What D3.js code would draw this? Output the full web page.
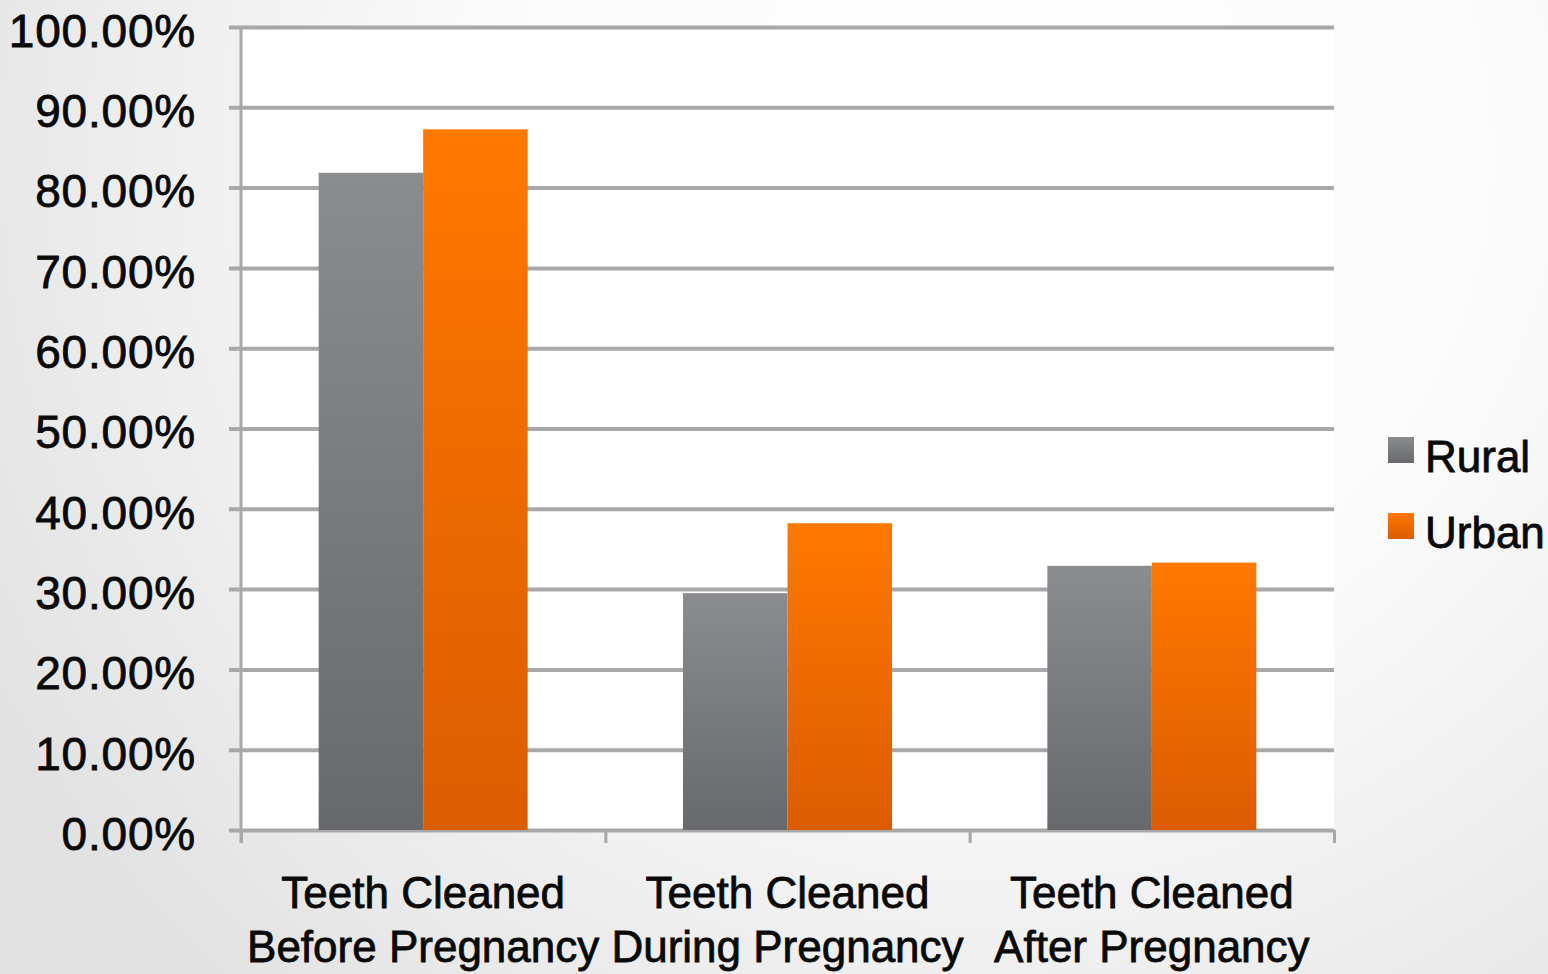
<!DOCTYPE html>
<html lang="en">
  <head>
  <meta charset="utf-8"/>
    <script type="text/javascript" src="https://cdnjs.cloudflare.com/ajax/libs/d3/7.8.5/d3.min.js"></script>
    <style>
      body { margin: 0; overflow: hidden; }
      text { font-family: "Liberation Sans", Arial, sans-serif; fill: #0a0a0a; stroke: #0a0a0a; stroke-width: 0.8px; }
    </style>
  </head>
  <body>
<svg class="chart"></svg>
    <script type="text/javascript">

// chart values
var categories = [["Teeth Cleaned", "Before Pregnancy"], ["Teeth Cleaned", "During Pregnancy"], ["Teeth Cleaned", "After Pregnancy"]];
var seriesNames = ["Rural", "Urban"];
var rural = [0.8185, 0.295, 0.329];
var urban = [0.8726, 0.382, 0.333];
var yTicks = [0, 0.1, 0.2, 0.3, 0.4, 0.5, 0.6, 0.7, 0.8, 0.9, 1.0];

var width = 1548, height = 974;
// note: "top" is taken by window.top, so use plot* names
var plotLeft = 241, plotRight = 1334, plotTop = 27, plotBottom = 830;

var svg = d3.select('.chart').attr('width', width).attr('height', height);
var defs = svg.append('defs');

// slide background
var bg = defs.append('radialGradient').attr('id', 'bg')
  .attr('gradientUnits', 'userSpaceOnUse')
  .attr('cx', 1000).attr('cy', 150).attr('r', 1150);
bg.append('stop').attr('offset', '0%').attr('stop-color', '#ffffff');
bg.append('stop').attr('offset', '45%').attr('stop-color', '#fbfbfb');
bg.append('stop').attr('offset', '100%').attr('stop-color', '#e2e2e2');
svg.append('rect').attr('width', width).attr('height', height).attr('fill', 'url(#bg)');

// bar gradients (top -> bottom)
function grad(id, c1, c2) {
  var g = defs.append('linearGradient').attr('id', id)
    .attr('x1', 0).attr('y1', 0).attr('x2', 0).attr('y2', 1);
  g.append('stop').attr('offset', '0%').attr('stop-color', c1);
  g.append('stop').attr('offset', '100%').attr('stop-color', c2);
}
grad('gRural', '#8b8c90', '#68696d');
grad('gUrban', '#ff7800', '#dc5c00');
var fills = ['url(#gRural)', 'url(#gUrban)'];

// plot area
svg.append('rect').attr('x', plotLeft).attr('y', plotTop)
  .attr('width', plotRight - plotLeft).attr('height', plotBottom - plotTop).attr('fill', '#ffffff');

var y = d3.scaleLinear().domain([0, 1]).range([plotBottom, plotTop]);
var x0 = d3.scaleBand().domain(d3.range(categories.length)).range([plotLeft, plotRight])
  .paddingInner(0.4264).paddingOuter(0.2132);
var x1 = d3.scaleBand().domain(seriesNames).range([0, x0.bandwidth()]);
var xEdges = d3.scaleLinear().domain([0, categories.length]).range([plotLeft, plotRight]);

// gridlines + y labels
var yAxis = svg.append('g')
  .attr('transform', 'translate(229,0)')
  .call(d3.axisLeft(y).tickValues(yTicks).tickFormat(d3.format('.2%'))
    .tickSize(-(plotRight - 229)).tickPadding(33));
yAxis.select('.domain').remove();
yAxis.selectAll('.tick line').attr('stroke', '#a8a8a8').attr('stroke-width', 4);
yAxis.selectAll('.tick text').attr('font-size', 46).attr('letter-spacing', 0.8).attr('dy', '0.42em');

// bars
var groups = svg.selectAll('g.cat')
  .data(categories.map(function(d, i) { return [rural[i], urban[i]]; }))
  .enter().append('g').attr('class', 'cat')
  .attr('transform', function(d, i) { return 'translate(' + x0(i) + ',0)'; });
groups.selectAll('rect')
  .data(function(d) { return d; })
  .enter().append('rect')
  .attr('x', function(d, i) { return x1(seriesNames[i]); })
  .attr('y', function(d) { return y(d); })
  .attr('width', x1.bandwidth())
  .attr('height', function(d) { return plotBottom - y(d); })
  .attr('fill', function(d, i) { return fills[i]; });

// vertical axis line
svg.append('line').attr('x1', plotLeft).attr('x2', plotLeft).attr('y1', plotTop).attr('y2', 843)
  .attr('stroke', '#a8a8a8').attr('stroke-width', 3);

// category separators
var xAxis = svg.append('g').attr('transform', 'translate(0,' + plotBottom + ')')
  .call(d3.axisBottom(xEdges).tickValues(d3.range(categories.length + 1)).tickSize(13).tickFormat(''));
xAxis.select('.domain').remove();
xAxis.selectAll('.tick line').attr('stroke', '#a8a8a8').attr('stroke-width', 3);

// category labels
var labels = svg.selectAll('text.cat')
  .data(categories).enter().append('text').attr('class', 'cat')
  .attr('text-anchor', 'middle').attr('font-size', 44)
  .attr('x', function(d, i) { return x0(i) + x0.bandwidth() / 2; });
labels.selectAll('tspan').data(function(d) { return d; }).enter().append('tspan')
  .attr('x', function() { return d3.select(this.parentNode).attr('x'); })
  .attr('y', function(d, i) { return 908 + i * 54; })
  .text(function(d) { return d; });

// legend
var legend = svg.selectAll('g.legend').data(seriesNames).enter().append('g').attr('class', 'legend')
  .attr('transform', function(d, i) { return 'translate(1388,' + (437 + i * 76) + ')'; });
legend.append('rect').attr('width', 26).attr('height', 26)
  .attr('fill', function(d, i) { return fills[i]; });
legend.append('text').attr('x', 37).attr('y', 35).attr('font-size', 44)
  .text(function(d) { return d; });

    </script>
  </body>
</html>
